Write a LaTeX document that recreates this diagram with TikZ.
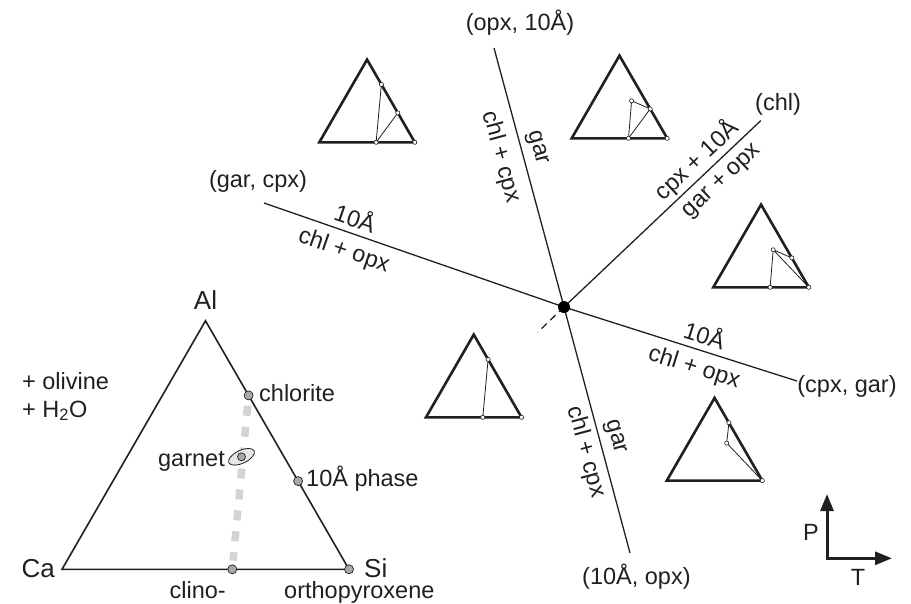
\documentclass[tikz,border=0pt]{standalone}
\usepackage{fontspec}
\setmainfont{Liberation Sans}
\usetikzlibrary{arrows.meta,calc,shapes.geometric}
\definecolor{ink}{HTML}{231F20}
\definecolor{dotgrey}{HTML}{A7A9AC}
\definecolor{tiegrey}{HTML}{D1D3D4}
\definecolor{ellfill}{HTML}{E6E7E8}

% small phase triangle: #1 name, (#2,#3) lower-left corner, side 95.5
\newcommand\phasetri[3]{%
  \begin{scope}[shift={(#2,#3)}]
    \coordinate (#1-ca)  at (0,0);
    \coordinate (#1-si)  at (95.5,0);
    \coordinate (#1-al)  at (47.75,-82.7);
    \coordinate (#1-chl) at (62.1,-57.9);
    \coordinate (#1-ten) at (78.5,-29.4);
    \coordinate (#1-cpx) at (56.8,0);
    \coordinate (#1-gar) at (59.9,-37.5);
    \draw[minitri] (#1-ca) -- (#1-si) -- (#1-al) -- cycle;
  \end{scope}}
\newcommand\tiedot[1]{\node[smalldot] (#1-o) at (#1) {};}

\begin{document}
\begin{tikzpicture}[x=1pt,y=-1pt,
  font=\fontsize{23.5}{28}\selectfont,
  lbl/.style={inner sep=0pt, text=ink},
  bigedge/.style={line width=1.6pt, draw=ink},
  reaction/.style={line width=1.3pt, draw=ink},
  minitri/.style={line width=2.6pt, draw=ink, line join=miter},
  tie/.style={line width=0.8pt, draw=ink},
  bigdot/.style={circle, fill=dotgrey, draw=ink, line width=0.7pt, minimum size=9pt, inner sep=0pt},
  smalldot/.style={circle, fill=white, draw=ink, line width=0.6pt, minimum size=4.2pt, inner sep=0pt},
  invpt/.style={circle, fill=black, minimum size=12pt, inner sep=0pt},
  ptaxis/.style={line width=3pt, draw=ink, -{Triangle[length=17pt,width=13pt]}}]

\useasboundingbox (0,0) rectangle (911,603);

% ---------- composition triangle Ca-Al-Si ----------
\coordinate (ca) at (62,569.3);
\coordinate (si) at (349,569.3);
\coordinate (al) at (205.5,320.8);
\coordinate (chl) at (248.6,395.4);
\coordinate (ten) at (298.1,481.1);
\coordinate (cpx) at (232.3,569.3);
\coordinate (gar) at (241.5,456.8);

\draw[line width=7.5pt, draw=tiegrey, dash pattern=on 10pt off 11pt]
  ($(chl)!0.06!(cpx)$) -- ($(chl)!0.95!(cpx)$);
\draw[bigedge] (ca) -- (si) -- (al) -- cycle;

\node[ellipse, draw=ink, fill=ellfill, line width=0.8pt, minimum width=28pt,
      minimum height=13pt, inner sep=0pt, rotate=25] (garell) at (gar) {};
\node[bigdot] (chl-o) at (chl) {};
\node[bigdot] (ten-o) at (ten) {};
\node[bigdot] (cpx-o) at (cpx) {};
\node[bigdot] (si-o) at (si) {};
\node[bigdot, minimum size=8pt] (gar-o) at (gar) {};

\node[lbl, anchor=base] (al-l) at (205.5,309) {\fontsize{26}{30}\selectfont Al};
\node[lbl, anchor=base east] (ca-l) at (55,577) {\fontsize{26}{30}\selectfont Ca};
\node[lbl, anchor=base west] (si-l) at (364,577) {\fontsize{26}{30}\selectfont Si};
\node[lbl, anchor=base west] (chl-l) at (259,401) {chlorite};
\node[lbl, anchor=base west] (ten-l) at (306,486.5) {10Å phase};
\node[lbl, anchor=base east] (gar-l) at (225,466) {garnet};
\node[lbl, anchor=base east] (cpx-l) at (226,598) {clino-};
\node[lbl, anchor=base west] (opx-l) at (284,598) {orthopyroxene};
\node[lbl, anchor=base west] (oliv-l) at (22,389) {+ olivine};
\node[lbl, anchor=base west] (water-l) at (22,417) {+ H\textsubscript{2}O};

% ---------- reaction lines around the invariant point ----------
\coordinate (ip) at (564,307);
\coordinate (e-opxten) at (494,48);
\coordinate (e-tenopx) at (630,553);
\coordinate (e-garcpx) at (264,203);
\coordinate (e-cpxgar) at (797,381);
\coordinate (e-chl) at (760.7,120.7);
\coordinate (e-meta) at (538,332);

\draw[reaction] (e-opxten) -- (ip) -- (e-tenopx);
\draw[reaction] (e-garcpx) -- (ip) -- (e-cpxgar);
\draw[reaction] (ip) -- (e-chl);
\draw[reaction, dash pattern=on 7pt off 5pt] (ip) -- (e-meta);
\node[invpt] (invdot) at (ip) {};

% end labels
\node[lbl, anchor=base] (l-opxten) at (520,30) {(opx, 10Å)};
\node[lbl, anchor=base west] (l-chl) at (755,110) {(chl)};
\node[lbl, anchor=base] (l-garcpx) at (258,187) {(gar, cpx)};
\node[lbl, anchor=base] (l-cpxgar) at (847,392) {(cpx, gar)};
\node[lbl, anchor=base west] (l-tenopx) at (582,584) {(10Å, opx)};

% reaction labels
\node[lbl, rotate=-74.9] (r1a) at (537,148) {gar};
\node[lbl, rotate=-74.9] (r1b) at (501,157) {chl + cpx};
\node[lbl, rotate=-74.9] (r2a) at (615,437) {gar};
\node[lbl, rotate=-74.9] (r2b) at (586,452) {chl + cpx};
\node[lbl, rotate=-19.1] (r3a) at (355.6,217) {10Å};
\node[lbl, rotate=-19.1] (r3b) at (343.8,251) {chl + opx};
\node[lbl, rotate=-17.6] (r4a) at (705,334) {10Å};
\node[lbl, rotate=-17.6] (r4b) at (694,368) {chl + opx};
\node[lbl, rotate=43.5] (r5a) at (696.5,160) {cpx + 10Å};
\node[lbl, rotate=43.5] (r5b) at (722.5,181.7) {gar + opx};

% ---------- assemblage triangles in each field ----------
\phasetri{ta}{319.3}{142.3}
\draw[tie] (ta-chl) -- (ta-cpx) (ta-ten) -- (ta-cpx);
\tiedot{ta-chl}\tiedot{ta-ten}\tiedot{ta-cpx}\tiedot{ta-si}

\phasetri{tb}{571.7}{138.3}
\draw[tie] (tb-gar) -- (tb-ten) -- (tb-cpx) -- cycle;
\tiedot{tb-gar}\tiedot{tb-ten}\tiedot{tb-cpx}\tiedot{tb-si}

\phasetri{tc}{713.3}{287.3}
\draw[tie] (tc-gar) -- (tc-cpx) (tc-gar) -- (tc-ten) (tc-gar) -- (tc-si);
\tiedot{tc-gar}\tiedot{tc-ten}\tiedot{tc-cpx}\tiedot{tc-si}

\phasetri{td}{426}{417.3}
\draw[tie] (td-chl) -- (td-cpx);
\tiedot{td-chl}\tiedot{td-cpx}\tiedot{td-si}

\phasetri{te}{666.8}{480.6}
\draw[tie] (te-chl) -- (te-gar) -- (te-si);
\tiedot{te-chl}\tiedot{te-gar}\tiedot{te-si}

% ---------- P-T orientation ----------
\coordinate (ptorigin) at (827,558.3);
\coordinate (ptp) at (827,494);
\coordinate (ptt) at (892,558.3);
\draw[ptaxis] ([xshift=-1.5pt]ptorigin) -- (ptt);
\draw[ptaxis] ([yshift=-1.5pt]ptorigin) -- (ptp);
\node[lbl] (p-l) at (811,532) {P};
\node[lbl] (t-l) at (858,577) {T};

\end{tikzpicture}
\end{document}
